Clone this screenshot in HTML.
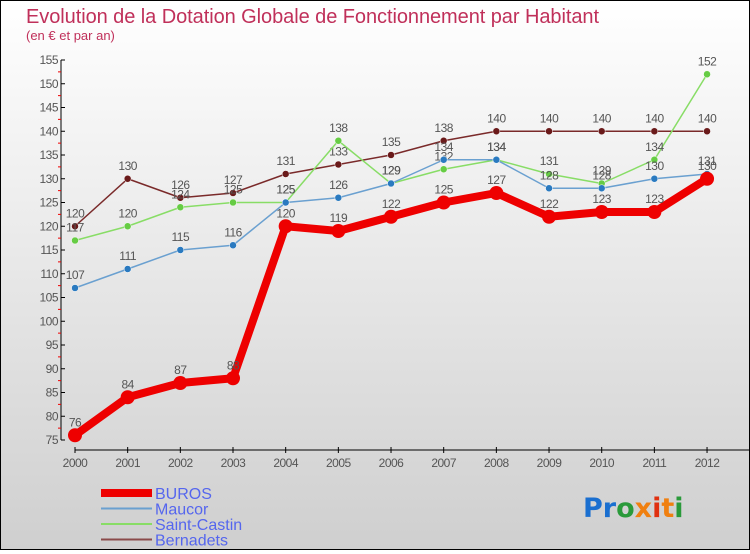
<!DOCTYPE html>
<html><head><meta charset="utf-8"><style>
html,body{margin:0;padding:0}
body{width:750px;height:550px;overflow:hidden;font-family:"Liberation Sans",sans-serif}
#c{position:absolute;left:0;top:0;width:748px;height:548px;border:1px solid #000;background:linear-gradient(#fff,#cfcfcf)}
</style></head><body>
<div id="c">
<svg id="s" width="748" height="548" xmlns="http://www.w3.org/2000/svg" font-family="Liberation Sans, sans-serif">
<text x="25" y="22" font-size="20" fill="#c0305a" textLength="573">Evolution de la Dotation Globale de Fonctionnement par Habitant</text>
<text x="25" y="39" font-size="13" fill="#c0305a">(en € et par an)</text>
<g id="axes"></g><g id="series"></g><g id="legend"></g>
<g font-family="DejaVu Sans, sans-serif" font-size="27" font-weight="bold">
<text x="582" y="516"><tspan fill="#1a6fd0">Pr</tspan><tspan fill="#2a9a3a">o</tspan><tspan fill="#f08010">x</tspan><tspan fill="#e03010">i</tspan><tspan fill="#f08010">t</tspan><tspan fill="#2a9a3a">i</tspan></text>
</g>
</svg></div>
<script>
const years=[2000,2001,2002,2003,2004,2005,2006,2007,2008,2009,2010,2011,2012];
const buros=[76,84,87,88,120,119,122,125,127,122,123,123,130];
const maucor=[107,111,115,116,125,126,129,134,134,128,128,130,131];
const saintCastin=[117,120,124,125,125,138,129,132,134,131,129,134,152];
const bernadets=[120,130,126,127,131,133,135,138,140,140,140,140,140];
const yTicks=[75,80,85,90,95,100,105,110,115,120,125,130,135,140,145,150,155];
const NS="http://www.w3.org/2000/svg";
const X=i=>74+i*52.67, Y=v=>439-(v-75)*4.75;
function mk(t,a,p){const e=document.createElementNS(NS,t);for(const k in a)e.setAttribute(k,a[k]);p.appendChild(e);return e;}
const ax=document.getElementById('axes');
let l=mk('line',{x1:60,y1:59,x2:60,y2:439,stroke:'#000'},ax);

l=mk('line',{x1:74,y1:449,x2:748,y2:449,stroke:'#000'},ax);

yTicks.forEach(v=>{mk('line',{x1:60,y1:Y(v),x2:64,y2:Y(v),stroke:'#000'},ax);
 if(v<155)mk('line',{x1:57,y1:Y(v+2.5),x2:60,y2:Y(v+2.5),stroke:'#e00'},ax);
 const t=mk('text',{x:57,y:Y(v)+4,'font-size':12,fill:'#555','text-anchor':'end','letter-spacing':'-0.5'},ax);t.textContent=v;
 });
years.forEach((y,i)=>{mk('line',{x1:X(i),y1:446,x2:X(i),y2:452,stroke:'#000'},ax);
 const t=mk('text',{x:X(i),y:466,'font-size':12,fill:'#555','text-anchor':'middle','letter-spacing':'-0.5'},ax);t.textContent=y;
 });
const ser=[['bernadets',bernadets,'#7a2a2a','#6a1a1a',1.5,3.5],['saint-castin',saintCastin,'#88dd66','#66cc44',1.5,3.5],['maucor',maucor,'#6aa0d0','#2a7ac0',1.5,3.5],['buros',buros,'#ee0000','#ee0000',8,7]];
const sg=document.getElementById('series');
ser.forEach(([n,d,c,pc,w,r])=>{const g=mk('g',{},sg);
 const p=mk('polyline',{points:d.map((v,i)=>X(i)+','+Y(v)).join(' '),fill:'none',stroke:c,'stroke-width':w,'stroke-linejoin':'round'},g);
 
 d.forEach((v,i)=>{const ci=mk('circle',{cx:X(i),cy:Y(v),r:r,fill:pc,stroke:n==='buros'?'none':'#fff','stroke-width':0.5},g);
  
  const t=mk('text',{x:X(i),y:Y(v)-9,'font-size':12,fill:'#555','text-anchor':'middle','letter-spacing':'-0.5'},g);t.textContent=v;
  });});
const lg=document.getElementById('legend');
[['BUROS','#ee0000',8],['Maucor','#6aa0d0',2],['Saint-Castin','#88dd66',2],['Bernadets','#8a4a4a',2]].forEach(([n,c,w],i)=>{
 const g=mk('g',{},lg);
 mk('line',{x1:100,y1:492+i*15.5,x2:151,y2:492+i*15.5,stroke:c,'stroke-width':w},g);
 const t=mk('text',{x:154,y:498+i*15.5,'font-size':16,fill:'#5566ee'},g);t.textContent=n;});
</script>
</body></html>
